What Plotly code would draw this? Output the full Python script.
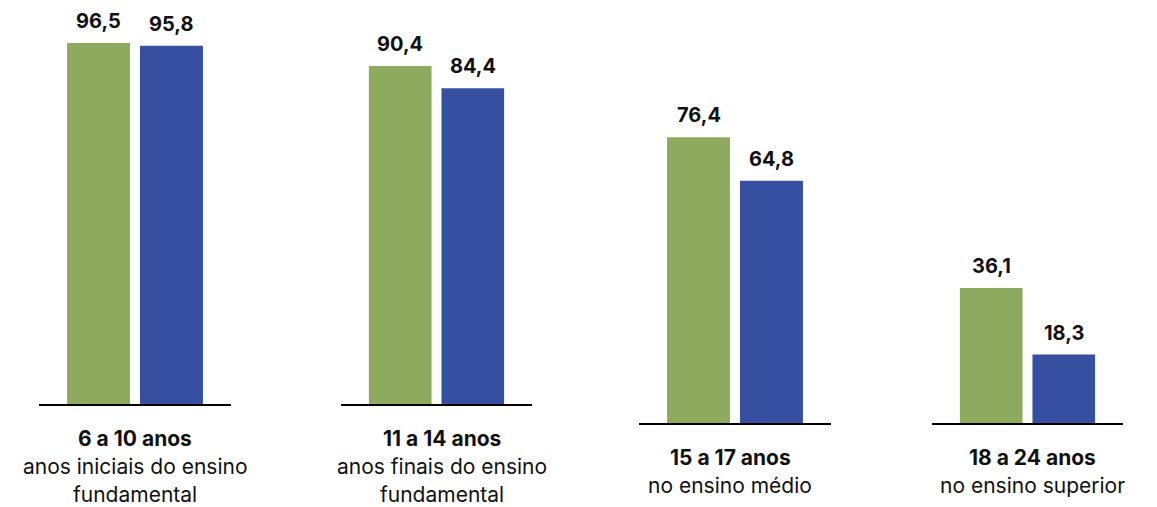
import plotly.graph_objects as go

# ---- data ----
categories = ["6 a 10 anos", "11 a 14 anos", "15 a 17 anos", "18 a 24 anos"]
descriptions = [
    ["anos iniciais do ensino", "fundamental"],
    ["anos finais do ensino", "fundamental"],
    ["no ensino médio"],
    ["no ensino superior"],
]
series_green = [96.5, 90.4, 76.4, 36.1]
series_blue = [95.8, 84.4, 64.8, 18.3]

# ---- style / layout ----
W, H = 1157, 507
GREEN = "#8EAA5E"
BLUE = "#364FA1"
TXT = "#111111"
FONT = "Inter"
PX_PER_UNIT = 3.74
# horizontal extent of each group's baseline (px)
x_extent = [(39, 231), (341, 532), (639, 831), (932, 1123)]
# baseline pixel (top of the axis line) for each group
baseline_px = [404, 404, 423, 423]
# small horizontal nudges of the category labels (px)
label_xshift = [0, 5, -5, 5]
BARGAP = 0.24
BARGROUPGAP = 0.137

fig = go.Figure()

for i in range(4):
    ax = "" if i == 0 else str(i + 1)
    for vals, col, name in ((series_green, GREEN, "A"), (series_blue, BLUE, "B")):
        fig.add_trace(go.Bar(
            x=[categories[i]], y=[vals[i]], name=name, offsetgroup=name,
            marker=dict(color=col, line=dict(width=0)),
            xaxis="x" + ax, yaxis="y" + ax, showlegend=False,
            hoverinfo="skip",
        ))
    x0, x1 = x_extent[i]
    b = baseline_px[i]
    fig.layout["xaxis" + ax] = dict(
        domain=[x0 / W, x1 / W], anchor="y" + ax, type="category",
        range=[-0.5, 0.5], showline=True, linecolor="#000000", linewidth=2,
        showgrid=False, zeroline=False, showticklabels=False, ticks="",
        fixedrange=True,
    )
    fig.layout["yaxis" + ax] = dict(
        domain=[(H - b) / H, 1], anchor="x" + ax,
        range=[0, b / PX_PER_UNIT], visible=False, fixedrange=True,
    )

    # value labels above bars
    slot_px = (x1 - x0) * (1 - BARGAP) / 2
    for vals, sgn in ((series_green, -1), (series_blue, 1)):
        fig.add_annotation(
            x=categories[i], y=vals[i], xref="x" + ax, yref="y" + ax,
            text="<b>" + f"{vals[i]:.1f}".replace(".", ",") + "</b>",
            showarrow=False, xshift=sgn * slot_px / 2, yshift=8,
            yanchor="bottom", xanchor="center",
            font=dict(family=FONT, size=20, color=TXT),
        )

    # category labels below baseline
    lines = ["<b>" + categories[i] + "</b>"] + descriptions[i]
    first_center = b + 34.5
    for k, ln in enumerate(lines):
        yc = first_center + 28 * k
        fig.add_annotation(
            x=0.5, xref="x" + ax + " domain", y=(H - yc) / H, yref="paper",
            text=ln, showarrow=False, xanchor="center", yanchor="middle",
            xshift=label_xshift[i],
            font=dict(family=FONT, size=21, color=TXT),
        )

fig.update_layout(
    width=W, height=H, margin=dict(l=0, r=0, t=0, b=0),
    paper_bgcolor="white", plot_bgcolor="white",
    barmode="group", bargap=BARGAP, bargroupgap=BARGROUPGAP,
    font=dict(family=FONT, color=TXT),
)

fig.write_html("out.html")
